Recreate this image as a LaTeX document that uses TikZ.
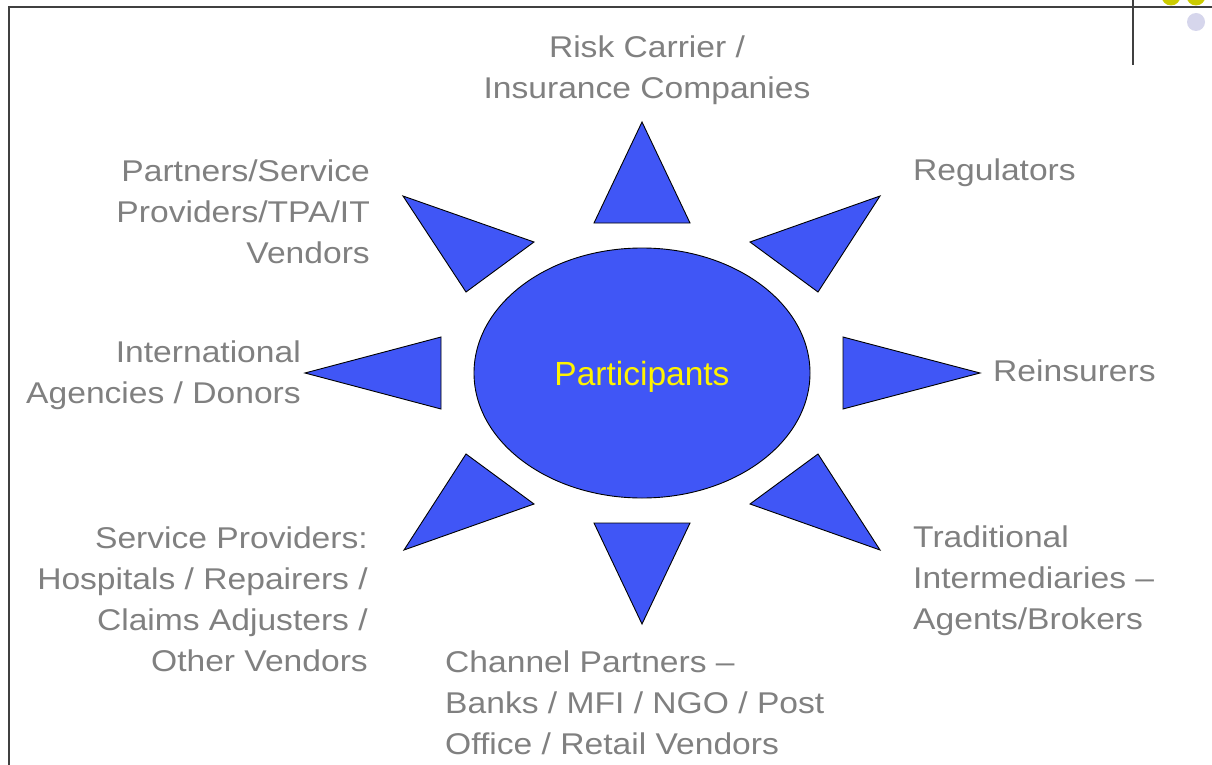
\documentclass[tikz,border=0pt]{standalone}
\usepackage{fontspec}
\setmainfont{Liberation Sans}
\usetikzlibrary{positioning,shapes.geometric}
\definecolor{rayblue}{RGB}{64,86,246}
\definecolor{labelgray}{RGB}{128,128,128}
\definecolor{framegray}{RGB}{64,64,64}
\definecolor{dotyellow}{RGB}{204,204,0}
\definecolor{dotlilac}{RGB}{214,214,236}
\newcommand*{\lbl}{\fontsize{30}{41}\selectfont}

\begin{document}
\begin{tikzpicture}[x=1pt,y=-1pt,
  ray/.style={fill=rayblue,draw=black,line width=0.9pt,line join=miter},
  party/.style={text=labelgray,font=\lbl,inner sep=0pt,xscale=1.12}]
\useasboundingbox (0,0) rectangle (1212,765);
% Slide frame and corner dots
\fill[dotyellow] (1171,-4) circle (9.5);
\fill[dotyellow] (1196,-4) circle (9.5);
\fill[dotlilac] (1196,22) circle (9);
\draw[framegray,line width=2pt] (8.5,765) -- (8.5,7.5) -- (1212,7.5);
\draw[framegray,line width=2pt] (1133,0) -- (1133,65);
% The sun in the middle
\node[ray,ellipse,minimum width=336,minimum height=250,inner sep=0pt,
      text=yellow,font=\fontsize{33.5}{40}\selectfont,text depth=0pt,
      text height=24pt] (hub) at (642,373) {Participants};
% Rays of the sun
\draw[ray] (594,223) -- (642,122) -- (690,223) -- cycle;
\draw[ray] (750,242) -- (880,196) -- (818,292) -- cycle;
\draw[ray] (843,337) -- (980,373) -- (843,409) -- cycle;
\draw[ray] (750,504) -- (818,454) -- (880,550) -- cycle;
\draw[ray] (594,523) -- (690,523) -- (642,624) -- cycle;
\draw[ray] (534,504) -- (466,454) -- (404,550) -- cycle;
\draw[ray] (441,337) -- (305,373) -- (441,409) -- cycle;
\draw[ray] (534,242) -- (403,196) -- (466,292) -- cycle;
% Participants round the sun (base = baseline of the last line)
\node[party,align=center,anchor=base] (carrier) at (647,99)
  {Risk Carrier /\\Insurance Companies};
\node[party,align=left,anchor=base west] (regulators) at (913,180) {Regulators};
\node[party,align=left,anchor=base west] (reinsurers) at (993,381) {Reinsurers};
\node[party,align=left,anchor=base west] (brokers) at (913,629)
  {Traditional\\Intermediaries --\\Agents/Brokers};
\node[party,align=left,anchor=base west] (channel) at (445,754)
  {Channel Partners --\\Banks / MFI / NGO / Post\\Office / Retail Vendors};
\node[party,align=right,anchor=base east] (vendors) at (368,671)
  {Service Providers:\\Hospitals / Repairers /\\Claims Adjusters /\\Other Vendors};
\node[party,align=right,anchor=base east] (donors) at (301,403)
  {International\\Agencies / Donors};
\node[party,align=right,anchor=base east] (partners) at (370,263)
  {Partners/Service\\Providers/TPA/IT\\Vendors};
\end{tikzpicture}
\end{document}
